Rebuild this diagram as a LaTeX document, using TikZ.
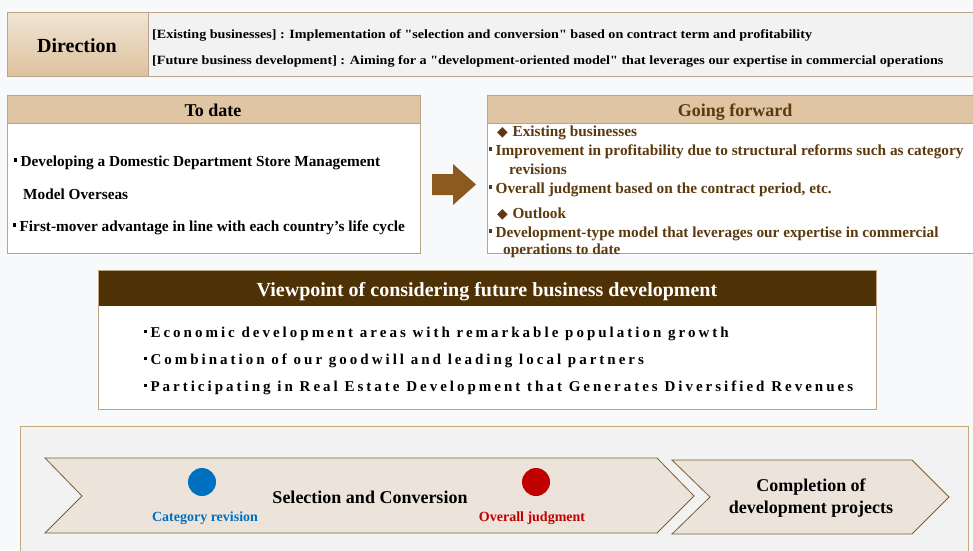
\documentclass[tikz,border=0pt]{standalone}
\usepackage{fontspec}
\setmainfont{Liberation Serif}
\newfontfamily\symfont{DejaVu Sans}
\newfontfamily\broadfont[FakeStretch=1.12]{Liberation Serif}
\newfontfamily\widefont[LetterSpace=20]{Liberation Serif}
\usetikzlibrary{positioning}

\definecolor{pagebg}{HTML}{F8F9FB}
\definecolor{tanhead}{HTML}{DFC5A3}
\definecolor{tanline}{HTML}{BBA588}
\definecolor{darkhead}{HTML}{4E3104}
\definecolor{browntext}{HTML}{5C3A0E}
\definecolor{arrowbrown}{HTML}{8A5A1E}
\definecolor{chevfill}{HTML}{ECE4DA}
\definecolor{chevline}{HTML}{7B5E38}
\definecolor{panelfill}{HTML}{F2F2F2}
\definecolor{panelline}{HTML}{C4A77C}
\definecolor{catblue}{HTML}{0070C0}
\definecolor{judgered}{HTML}{C00000}

% small square bullet and diamond marker
\newcommand{\dotmark}{\makebox[0.42em][l]{\raisebox{0.26em}{\rule{0.17em}{0.24em}}}}
\newcommand{\diamark}{{\symfont\fontsize{14}{16}\selectfont ◆}\hspace{0.3em}}

\tikzset{
  txt/.style={anchor=base west,inner sep=0pt,font=\bfseries\fontsize{15.3}{17}\selectfont},
  headtxt/.style={anchor=base,inner sep=0pt,font=\bfseries\fontsize{18}{20}\selectfont},
  dirtxt/.style={anchor=base west,inner sep=0pt,font=\broadfont\bfseries\fontsize{12.6}{14}\selectfont},
  wide/.style={anchor=base west,inner sep=0pt,font=\widefont\bfseries\fontsize{15}{17}\selectfont},
}

\begin{document}
\begin{tikzpicture}[x=1pt,y=-1pt]

\fill[pagebg] (0,0) rectangle (973,550);
\useasboundingbox (0,0) rectangle (973,550);

% ============================
% DIRECTION BANNER
% ============================

\fill[panelfill] (148,12) rectangle (980,76);
\shade[top color=white!55!tanhead,bottom color=tanhead!95!brown] (7,12) rectangle (148,76);
\draw[tanline,thick] (7,12) rectangle (980,76);
\draw[tanline,thick] (148,12) -- (148,76);

\node[headtxt,font=\bfseries\fontsize{20}{22}\selectfont] (dirlabel) at (77,52) {Direction};
\node[dirtxt] (direxist) at (152,38)
  {[Existing businesses] : Implementation of "selection and conversion" based on contract term and profitability};
\node[dirtxt] (dirfuture) at (152,64)
  {[Future business development] : Aiming for a "development-oriented model" that leverages our expertise in commercial operations};

% ============================
% TO DATE
% ============================

\fill[white] (7,123) rectangle (420,253);
\fill[tanhead] (7,95) rectangle (420,123);
\draw[tanline,thick] (7,95) rectangle (420,253);
\draw[tanline,thick] (7,123) -- (420,123);
\node[headtxt] (todate) at (213,116) {To date};

\node[txt] (tdone) at (14,166) {\dotmark Developing a Domestic Department Store Management};
\node[txt] (tdonecont) at (23,199) {Model Overseas};
\node[txt] (tdtwo) at (13,231) {\dotmark First-mover advantage in line with each country's life cycle};

% Block arrow between the two columns
\fill[arrowbrown] (432,174) -- (453,174) -- (453,164) -- (476,184.5)
  -- (453,205) -- (453,195) -- (432,195) -- cycle;

% ============================
% GOING FORWARD
% ============================

\fill[white] (487,123) rectangle (980,253);
\fill[tanhead] (487,95) rectangle (980,123);
\draw[tanline,thick] (487,95) rectangle (980,253);
\draw[tanline,thick] (487,123) -- (980,123);
\node[headtxt,text=browntext] (goingfwd) at (735,116) {Going forward};

\begin{scope}[every node/.style={txt,text=browntext}]
  \node (gfexist) at (497,136) {\diamark Existing businesses};
  \node (gfone) at (489,155) {\dotmark Improvement in profitability due to structural reforms such as category};
  \node (gfonecont) at (509,174) {revisions};
  \node (gftwo) at (489,193) {\dotmark Overall judgment based on the contract period, etc.};
  \node (gfoutlook) at (497,218) {\diamark Outlook};
  \node (gfthree) at (489,237) {\dotmark Development-type model that leverages our expertise in commercial};
  \node (gfthreecont) at (503,254) {operations to date};
\end{scope}

% ============================
% VIEWPOINT BOX
% ============================

\fill[white] (98,306) rectangle (876,409);
\fill[darkhead] (98,270) rectangle (876,306);
\draw[tanline,thick] (98,270) rectangle (876,409);
\node[headtxt,text=white,font=\bfseries\fontsize{20}{22}\selectfont] (viewhead) at (487,296)
  {Viewpoint of considering future business development};

\node[wide] (vpone) at (144,337) {\dotmark Economic development areas with remarkable population growth};
\node[wide] (vptwo) at (144,364) {\dotmark Combination of our goodwill and leading local partners};
\node[wide] (vpthree) at (144,391) {\dotmark Participating in Real Estate Development that Generates Diversified Revenues};

% ============================
% PROCESS PANEL
% ============================

\fill[panelfill] (20,426) rectangle (968,560);
\draw[panelline,thick] (20,426) rectangle (968,560);

% Chevrons
\filldraw[fill=chevfill,draw=chevline,thick]
  (45,458) -- (657,458) -- (694,496) -- (657,533) -- (45,533) -- (82,496) -- cycle;
\filldraw[fill=chevfill,draw=chevline,thick]
  (672,460) -- (912,460) -- (949,497) -- (912,534) -- (672,534) -- (710,497) -- cycle;

\fill[catblue] (202,482) circle (14);
\fill[judgered] (536,482) circle (14);

\node[headtxt,text=catblue,font=\bfseries\fontsize{14}{16}\selectfont] (catrev) at (205,521) {Category revision};
\node[headtxt] (selconv) at (370,503) {Selection and Conversion};
\node[headtxt,text=judgered,font=\bfseries\fontsize{14}{16}\selectfont] (overall) at (532,521) {Overall judgment};
\node[anchor=center,inner sep=0pt,align=center,font=\bfseries\fontsize{18}{22}\selectfont] (complete) at (811,498)
  {Completion of\\development projects};

\end{tikzpicture}
\end{document}
